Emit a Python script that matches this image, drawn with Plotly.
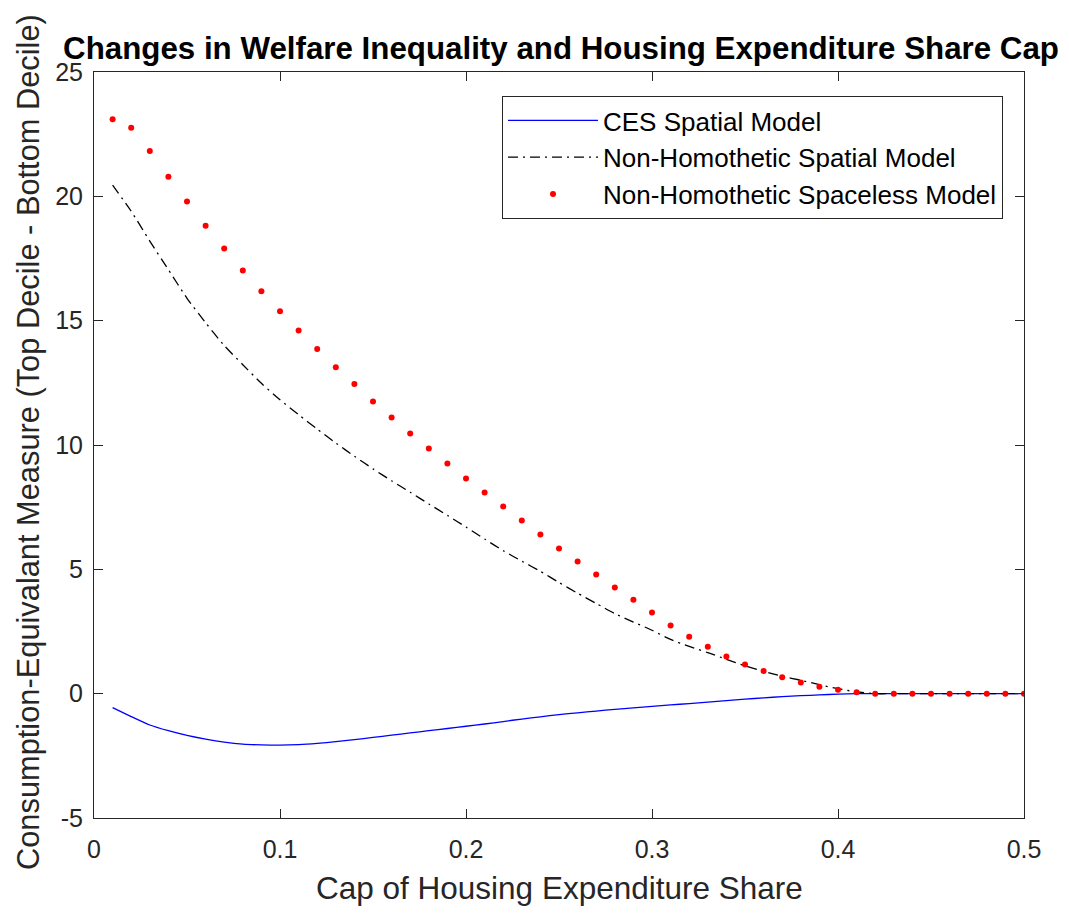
import plotly.graph_objects as go

# ---------------- data ----------------
cap_share = [0.01, 0.02, 0.03, 0.04, 0.05, 0.06, 0.07, 0.08, 0.09, 0.10,
             0.11, 0.12, 0.13, 0.14, 0.15, 0.16, 0.17, 0.18, 0.19, 0.20,
             0.21, 0.22, 0.23, 0.24, 0.25, 0.26, 0.27, 0.28, 0.29, 0.30,
             0.31, 0.32, 0.33, 0.34, 0.35, 0.36, 0.37, 0.38, 0.39, 0.40,
             0.41, 0.42, 0.43, 0.44, 0.45, 0.46, 0.47, 0.48, 0.49, 0.50]

ces_spatial = [-0.56, -0.92, -1.26, -1.49, -1.68, -1.83, -1.95, -2.03, -2.06, -2.07,
               -2.05, -2.00, -1.93, -1.85, -1.76, -1.67, -1.58, -1.49, -1.40, -1.31,
               -1.22, -1.12, -1.02, -0.93, -0.84, -0.77, -0.70, -0.63, -0.57, -0.51,
               -0.45, -0.40, -0.34, -0.28, -0.22, -0.17, -0.12, -0.08, -0.05, -0.02,
               0.0, 0.0, 0.0, 0.0, 0.0, 0.0, 0.0, 0.0, 0.0, 0.0]

nh_spatial = [20.45, 19.40, 18.20, 17.05, 15.90, 14.92, 14.00, 13.23, 12.48, 11.82,
              11.22, 10.64, 10.08, 9.55, 9.04, 8.56, 8.10, 7.63, 7.17, 6.70,
              6.22, 5.75, 5.33, 4.92, 4.47, 4.04, 3.63, 3.22, 2.88, 2.55,
              2.18, 1.90, 1.65, 1.38, 1.12, 0.90, 0.70, 0.54, 0.36, 0.20,
              0.07, 0.0, 0.0, 0.0, 0.0, 0.0, 0.0, 0.0, 0.0, 0.0]

nh_spaceless = [23.10, 22.76, 21.82, 20.79, 19.79, 18.82, 17.90, 17.02, 16.18, 15.38,
                14.60, 13.86, 13.13, 12.45, 11.75, 11.11, 10.46, 9.86, 9.26, 8.65,
                8.09, 7.53, 6.96, 6.40, 5.84, 5.31, 4.79, 4.27, 3.78, 3.26,
                2.74, 2.29, 1.89, 1.49, 1.17, 0.91, 0.66, 0.45, 0.28, 0.16,
                0.06, 0.0, 0.0, 0.0, 0.0, 0.0, 0.0, 0.0, 0.0, 0.0]

x_ticks = [0, 0.1, 0.2, 0.3, 0.4, 0.5]
x_tick_text = ["0", "0.1", "0.2", "0.3", "0.4", "0.5"]
y_ticks = [-5, 0, 5, 10, 15, 20, 25]
y_tick_text = ["-5", "0", "5", "10", "15", "20", "25"]

series_names = ["CES Spatial Model", "Non-Homothetic Spatial Model",
                "Non-Homothetic Spaceless Model"]

title_text = "Changes in Welfare Inequality and Housing Expenditure Share Cap"
x_title = "Cap of Housing Expenditure Share"
y_title = "Consumption-Equivalant Measure (Top Decile - Bottom Decile)"

# ---------------- figure ----------------
FONT = "Arial, 'Liberation Sans', Helvetica, sans-serif"
AXC = "#262626"
OFF = 8  # page body margin offset

fig = go.Figure()
fig.add_trace(go.Scatter(x=cap_share, y=ces_spatial, mode="lines",
                         name=series_names[0],
                         line=dict(color="#0000FF", width=1.3,
                                   shape="spline", smoothing=0.6)))
fig.add_trace(go.Scatter(x=cap_share, y=nh_spatial, mode="lines",
                         name=series_names[1],
                         line=dict(color="#000000", width=1.3,
                                   dash="10px,5px,2px,5px",
                                   shape="spline", smoothing=0.6)))
fig.add_trace(go.Scatter(x=cap_share, y=nh_spaceless, mode="markers",
                         name=series_names[2],
                         marker=dict(color="#FF0000", size=6)))

W, H = 1069, 913
L, R, T, B = 94 - OFF, 45 + OFF, 72 - OFF, 95 + OFF
pw = W - L - R
ph = H - T - B

def px_x(p):
    return (p - OFF - L) / pw

def px_y(p):
    return (H - B - (p - OFF)) / ph

fig.update_layout(
    width=W, height=H,
    margin=dict(l=L, r=R, t=T, b=B, autoexpand=False),
    paper_bgcolor="white", plot_bgcolor="white",
    font=dict(family=FONT, color=AXC),
    title=dict(text="<b>" + title_text + "</b>",
               font=dict(family=FONT, size=31.3, color="#000000"),
               x=px_x(561), xref="paper", xanchor="center",
               y=1 - (48 - OFF) / H, yref="container", yanchor="middle"),
    showlegend=True,
    legend=dict(x=px_x(1003), xanchor="right",
                y=px_y(96), yanchor="top",
                bgcolor="white", bordercolor=AXC, borderwidth=1,
                font=dict(family=FONT, size=26, color="#000000"),
                itemwidth=90, tracegroupgap=0),
    xaxis=dict(range=[0, 0.5], tickvals=x_ticks, ticktext=x_tick_text,
               showgrid=False, zeroline=False,
               showline=True, linecolor=AXC, linewidth=1, mirror="ticks",
               ticks="inside", ticklen=9, tickcolor=AXC, tickwidth=1,
               tickfont=dict(family=FONT, size=25, color=AXC),
               ticklabelstandoff=9),
    yaxis=dict(range=[-5, 25], tickvals=y_ticks, ticktext=y_tick_text,
               showgrid=False, zeroline=False,
               showline=True, linecolor=AXC, linewidth=1, mirror="ticks",
               ticks="inside", ticklen=9, tickcolor=AXC, tickwidth=1,
               tickfont=dict(family=FONT, size=25, color=AXC),
               ticklabelstandoff=5),
    annotations=[
        dict(text=x_title, xref="paper", yref="paper",
             x=0.5, y=px_y(888), xanchor="center", yanchor="middle",
             showarrow=False, font=dict(family=FONT, size=31.5, color=AXC)),
        dict(text=y_title, xref="paper", yref="paper", textangle=-90,
             x=px_x(28), y=px_y(442),
             xanchor="center", yanchor="middle",
             showarrow=False, font=dict(family=FONT, size=30.8, color=AXC)),
    ],
)

fig.write_html("out.html")
